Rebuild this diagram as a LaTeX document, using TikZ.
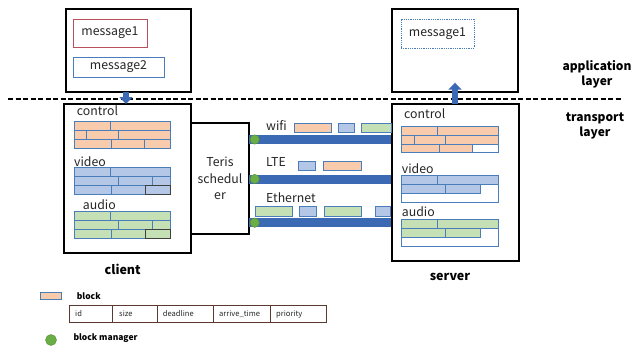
\documentclass[tikz,border=0pt]{standalone}
\usepackage{fontspec}
\setmainfont{Noto Sans CJK SC}
\usetikzlibrary{arrows.meta}
\definecolor{ora}{HTML}{F8CBAD}
\definecolor{blu}{HTML}{B4C7E7}
\definecolor{gre}{HTML}{C5E0B4}
\definecolor{bord}{HTML}{4A7EBB}
\definecolor{barc}{HTML}{3C69B4}
\definecolor{dotc}{HTML}{6AAE45}
\definecolor{txt}{HTML}{262626}
\definecolor{msgred}{HTML}{B8505E}
\definecolor{tabc}{HTML}{5A3A30}
\newcommand\rectnode[7]{%
  \pgfmathsetmacro\rnw{#5-#3}\pgfmathsetmacro\rnh{#6-#4}%
  \node[#2,minimum width=\rnw pt,minimum height=\rnh pt,inner sep=0pt,outer sep=0pt] (#1) at ({(#3+#5)/2},{(#4+#6)/2}) {#7};}
\newcommand\cellr[5]{\filldraw[cellbox,fill=#5] (#1,#2) rectangle (#3,#4);}
\begin{document}
\begin{tikzpicture}[x=1pt,y=-1pt,
  box/.style={draw=black,line width=1.3pt},
  cellbox/.style={draw=bord,line width=0.7pt},
  lbl/.style={font=\fontsize{12.3}{14}\selectfont,text=txt,inner sep=0pt,anchor=west},
  ttl/.style={font=\fontsize{12}{15}\selectfont\bfseries,text=black,align=center,inner sep=0pt},
  small/.style={font=\fontsize{7.6}{9}\selectfont,text=txt,inner sep=0pt,anchor=west},
  smallb/.style={font=\fontsize{8.5}{10}\selectfont\bfseries,text=black,inner sep=0pt,anchor=west},
  barline/.style={line width=9pt,draw=barc},
  dotn/.style={circle,fill=dotc,draw=dotc!80!black,line width=0.4pt,minimum size=9.4pt,inner sep=0pt},
  fatarrow/.style={draw=barc,line width=6.5pt,-{Triangle[width=13pt,length=7pt]}},
]
\useasboundingbox (0,0) rectangle (642,346);
\fill[white] (0,0) rectangle (642,346);

% application layer boxes
\rectnode{capp}{box}{66}{9}{191}{92}{}
\rectnode{m1}{draw=msgred,line width=0.9pt,lbl,anchor=center}{73}{19}{147}{47}{message1}
\rectnode{m2}{draw=bord,line width=0.9pt,lbl,anchor=center}{73}{57}{164}{77}{message2}
\rectnode{sapp}{box}{392}{9}{518}{92}{}
\rectnode{sm1}{draw=bord,densely dotted,line width=0.8pt,lbl,anchor=center}{401}{19}{474}{48}{message1}

% layer separator
\coordinate (dl) at (8,99);
\coordinate (dr) at (622,99);
\draw[line width=1.6pt,dash pattern=on 5pt off 2.5pt] (dl) -- (dr);

\node[ttl] (applbl) at (597,74) {application\\layer};
\node[ttl] (trlbl) at (595,126) {transport\\layer};

% links (bars) between scheduler and server
\rectnode{sched}{box,lbl,anchor=center,align=center,font=\fontsize{12.3}{16.5}\selectfont}{191}{123}{249}{234}{Teris\\schedul\\er}
\rectnode{srvT}{box}{392}{104}{519}{261}{}
\coordinate (wy) at (0,139.5);
\coordinate (ly) at (0,179);
\coordinate (ey) at (0,222.7);
\draw[barline] (sched.east |- wy) -- (srvT.west |- wy);
\draw[barline] (sched.east |- ly) -- (srvT.west |- ly);
\draw[barline] (sched.east |- ey) -- (srvT.west |- ey);
\draw[box] (392,104) rectangle (519,261);
\node[dotn] (d1) at (254.7,139.5) {};
\node[dotn] (d2) at (254.7,179) {};
\node[dotn] (d3) at (254.7,222.7) {};

\node[lbl] (wifi) at (266,126) {wifi};
\node[lbl] (lte) at (266,162.3) {LTE};
\node[lbl] (eth) at (266,197.5) {Ethernet};

% blocks on links
\cellr{294.3}{123.3}{331.7}{132.3}{ora}
\cellr{338.3}{123.3}{354.3}{132.3}{blu}
\cellr{361.7}{123.3}{391.5}{132.3}{gre}
\cellr{298.7}{161.7}{315}{170.7}{blu}
\cellr{323.3}{161.7}{361}{170.7}{ora}
\cellr{255.3}{206.7}{292.3}{216}{gre}
\cellr{299.3}{206.7}{316}{216}{blu}
\cellr{324.3}{206.7}{361.7}{216}{gre}
\cellr{375}{206.7}{390}{216}{blu}

% client transport box
\rectnode{cT}{box}{64}{104}{191}{253}{}
\node[lbl] (cc) at (76.7,110.7) {control};
\node[lbl] (cv) at (74,161.7) {video};
\node[lbl] (ca) at (82.7,205) {audio};
% control
\cellr{74}{121}{110.5}{130}{ora}\cellr{110.5}{121}{170}{130}{ora}
\cellr{74}{130}{86.7}{139}{ora}\cellr{86.7}{130}{118.3}{139}{ora}\cellr{118.3}{130}{170}{139}{ora}
\cellr{74}{139}{111.7}{148}{ora}\cellr{111.7}{139}{144.3}{148}{ora}\cellr{144.3}{139}{170}{148}{ora}
% video
\cellr{74}{167.7}{110.5}{176.7}{blu}\cellr{110.5}{167.7}{170}{176.7}{blu}
\cellr{74}{176.7}{118.3}{185.5}{blu}\cellr{118.3}{176.7}{152.7}{185.5}{blu}\cellr{152.7}{176.7}{170}{185.5}{blu}
\cellr{74}{185.5}{111.7}{194.3}{blu}\cellr{111.7}{185.5}{145}{194.3}{blu}
\filldraw[fill=blu,draw=black!75,line width=0.7pt] (145,185.5) rectangle (170,194.3);
% audio
\cellr{74}{211.5}{110.5}{220.5}{gre}\cellr{110.5}{211.5}{170}{220.5}{gre}
\cellr{74}{220.5}{118.3}{229.5}{gre}\cellr{118.3}{220.5}{152.7}{229.5}{gre}\cellr{152.7}{220.5}{170}{229.5}{gre}
\cellr{74}{229.5}{111.7}{238.5}{gre}\cellr{111.7}{229.5}{145.5}{238.5}{gre}
\filldraw[fill=gre,draw=black!75,line width=0.7pt] (145.5,229.5) rectangle (170,238.5);

% server contents
\node[lbl] (sc) at (404,114) {control};
\node[lbl] (sv) at (401.7,168.3) {video};
\node[lbl] (sa) at (401.7,211.7) {audio};
% control
\cellr{401.7}{126.7}{437.7}{135.3}{ora}\cellr{437.7}{126.7}{498.3}{135.3}{ora}
\cellr{401.7}{135.3}{414.3}{144}{ora}\cellr{414.3}{135.3}{445.7}{144}{ora}\cellr{445.7}{135.3}{498.3}{144}{ora}
\cellr{401.7}{144}{439.3}{152.7}{ora}\cellr{439.3}{144}{472.3}{152.7}{ora}\cellr{472.3}{144}{498.3}{152.7}{white}
% video
\cellr{401.7}{184.4}{498.3}{202.2}{white}
\cellr{401.7}{175.7}{437.7}{184.4}{blu}\cellr{437.7}{175.7}{498.3}{184.4}{blu}
\cellr{401.7}{184.4}{445.7}{193.3}{blu}\cellr{445.7}{184.4}{480}{193.3}{blu}
% audio
\cellr{401.7}{228}{498.3}{246}{white}
\cellr{401.7}{219.3}{437.7}{228}{gre}\cellr{437.7}{219.3}{498.3}{228}{gre}
\cellr{401.7}{228}{445.7}{237.2}{gre}\cellr{445.7}{228}{480}{237.2}{gre}

% vertical arrows between layers
\draw[fatarrow] (capp.south -| m2.center) ++(7.5,0) coordinate (a1) -- (a1 |- cT.north);
\coordinate (b1) at (455,104);
\coordinate (b2) at (455,82.7);
\draw[fatarrow] (b1) -- (b2);

% titles
\node[ttl,font=\fontsize{12.5}{15}\selectfont\bfseries] (client) at (122.7,269) {client};
\node[ttl,font=\fontsize{12.5}{15}\selectfont\bfseries] (server) at (450,276.7) {server};

% legend
\rectnode{lgb}{fill=ora,draw=bord,line width=0.7pt}{40}{292.3}{61.7}{299}{}
\node[smallb] (lgbt) at (76.7,296.5) {block};
\draw[tabc,line width=0.8pt] (69.3,305.7) rectangle (326.7,322.3);
\foreach \xx in {112.7,157.3,213.3,270.7} \draw[tabc,line width=0.8pt] (\xx,305.7) -- (\xx,322.3);
\node[small] (t1) at (75,314) {id};
\node[small] (t2) at (119,314) {size};
\node[small] (t3) at (162.7,314) {deadline};
\node[small] (t4) at (219,314) {arrive\_time};
\node[small] (t5) at (276,314) {priority};
\node[dotn,minimum size=11pt] (lgd) at (51,340) {};
\node[smallb] (lgdt) at (73.3,337.7) {block manager};
\end{tikzpicture}
\end{document}
